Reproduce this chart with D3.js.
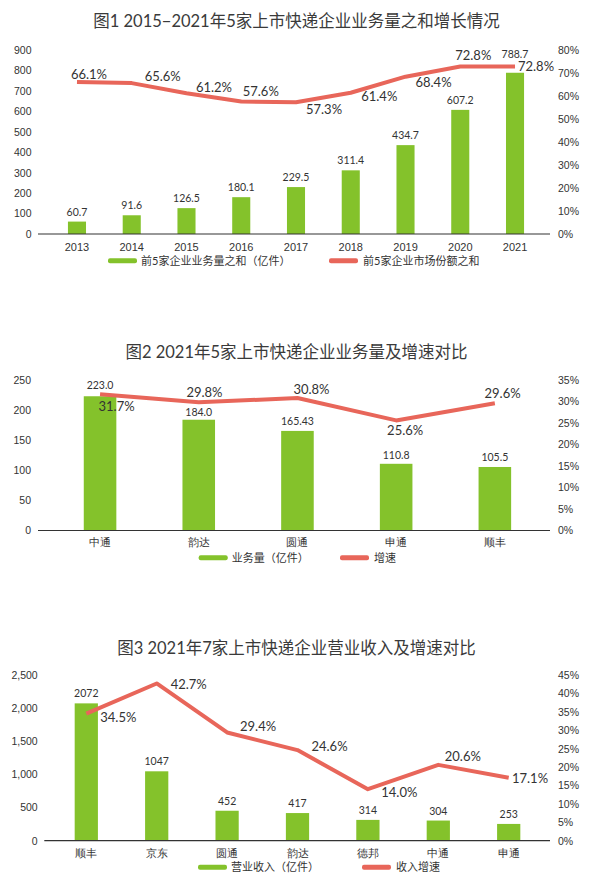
<!DOCTYPE html>
<html>
<head>
<meta charset="utf-8">
<script src="https://cdn.jsdelivr.net/npm/d3@7"></script>
<style>
  html, body { margin: 0; padding: 0; background: #fff; }
  svg { display: block; font-family: 'Lato', 'Noto Sans CJK SC', sans-serif; }
</style>
</head>
<body>
<svg id="chart" width="596" height="880"></svg>
<script>
// ---------- data ----------
const years = ['2013', '2014', '2015', '2016', '2017', '2018', '2019', '2020', '2021'];
const top5Volume = [60.7, 91.6, 126.5, 180.1, 229.5, 311.4, 434.7, 607.2, 788.7];
const top5VolumeLabels = ['60.7', '91.6', '126.5', '180.1', '229.5', '311.4', '434.7', '607.2', '788.7'];
const top5Share = [66.1, 65.6, 61.2, 57.6, 57.3, 61.4, 68.4, 72.8, 72.8];
const leftTicks1 = [0, 100, 200, 300, 400, 500, 600, 700, 800, 900];
const rightTicks1 = [0, 10, 20, 30, 40, 50, 60, 70, 80];

const companies2 = ['中通', '韵达', '圆通', '申通', '顺丰'];
const volume2021 = [223.0, 184.0, 165.43, 110.8, 105.5];
const volume2021Labels = ['223.0', '184.0', '165.43', '110.8', '105.5'];
const growth2021 = [31.7, 29.8, 30.8, 25.6, 29.6];
const leftTicks2 = [0, 50, 100, 150, 200, 250];
const rightTicks2 = [0, 5, 10, 15, 20, 25, 30, 35];

const companies3 = ['顺丰', '京东', '圆通', '韵达', '德邦', '中通', '申通'];
const revenue2021 = [2072, 1047, 452, 417, 314, 304, 253];
const revenueGrowth = [34.5, 42.7, 29.4, 24.6, 14.0, 20.6, 17.1];
const leftTicks3 = [0, 500, 1000, 1500, 2000, 2500];
const rightTicks3 = [0, 5, 10, 15, 20, 25, 30, 35, 40, 45];

// ---------- layout (label placement relative to marks) ----------
const lineLabelOffsets1 = [[12, -8], [31, -6.5], [27.5, -6], [19.5, -10], [28, 7], [28.5, 4], [28, 5.5], [13, -11], [21, 0]];
const barLabelLift1 = [6, 6, 6, 6, 6, 6, 6, 6, 15];
const lineLabelOffsets2 = [[16.5, 12], [5.7, -10.4], [14, -9], [9, 10.4], [7.7, -10]];
const barLabelLift2 = [7, 4, 6, 5, 5.5, 5.5];
const lineLabelOffsets3 = [[32, 3.6], [32, 1], [31, -6], [32, -3.4], [31.4, 3.6], [24.5, -8], [21.3, 0.6]];
const barLabelLift3 = [6, 6.5, 6, 6, 6, 6, 6];

const GREEN = '#84c22b';
const RED = '#e8665a';
const TEXT = '#333333';

const svg = d3.select('#chart');
svg.append('rect').attr('width', 596).attr('height', 880).attr('fill', '#fff');

function drawChart(cfg) {
  const g = svg.append('g');
  const x = d3.scaleBand().domain(cfg.cats).range([cfg.x0, cfg.x1]).paddingInner(0.67).paddingOuter(0.335);
  const yL = d3.scaleLinear().domain([0, cfg.leftMax]).range([cfg.yBottom, cfg.yTop]);
  const yR = d3.scaleLinear().domain([0, cfg.rightMax]).range([cfg.yBottom, cfg.yTop]);
  const cx = c => x(c) + x.bandwidth() / 2;

  // title
  g.append('text').attr('x', 296.5).attr('y', cfg.titleY).attr('dy', '0.35em')
    .attr('text-anchor', 'middle').attr('font-size', 16.5).attr('fill', '#3a3a3a')
    .text(cfg.title);

  // left axis
  const ga = g.append('g').attr('transform', `translate(${cfg.leftLabelX},0)`)
    .call(d3.axisLeft(yL).tickValues(cfg.leftTicks).tickSize(0).tickPadding(0).tickFormat(cfg.leftFormat));
  ga.select('.domain').remove();
  ga.selectAll('text').attr('font-size', 10.5).attr('fill', TEXT).attr('font-family', null);

  // right axis
  const gr = g.append('g').attr('transform', `translate(558,0)`)
    .call(d3.axisRight(yR).tickValues(cfg.rightTicks).tickSize(0).tickPadding(0).tickFormat(d => d + '%'));
  gr.select('.domain').remove();
  gr.selectAll('text').attr('font-size', 10.5).attr('fill', TEXT).attr('font-family', null);

  // bars
  g.selectAll('rect.bar').data(cfg.bars).enter().append('rect')
    .attr('class', 'bar')
    .attr('x', (d, i) => x(cfg.cats[i]))
    .attr('width', x.bandwidth())
    .attr('y', d => yL(d))
    .attr('height', d => yL(0) - yL(d))
    .attr('fill', GREEN);

  // baseline + bottom axis labels
  const gb = g.append('g').attr('transform', `translate(0,${cfg.yBottom})`)
    .call(d3.axisBottom(x).tickSize(0).tickPadding(0));
  gb.select('.domain').remove();
  gb.selectAll('text').attr('font-size', 11).attr('fill', TEXT).attr('font-family', null)
    .attr('y', cfg.catLabelOffset).attr('dy', '0.35em');
  g.append('line').attr('x1', cfg.axisX0).attr('x2', 550)
    .attr('y1', yL(0)).attr('y2', yL(0)).attr('stroke', '#333').attr('stroke-width', 1.2);

  // bar labels
  g.selectAll('text.barlab').data(cfg.bars).enter().append('text')
    .attr('class', 'barlab')
    .attr('x', (d, i) => cx(cfg.cats[i]))
    .attr('y', (d, i) => yL(d) - cfg.barLift[i])
    .attr('text-anchor', 'middle').attr('font-size', 10.5).attr('fill', TEXT)
    .text((d, i) => cfg.barLabels[i]);

  // line
  const line = d3.line().x((d, i) => cx(cfg.cats[i])).y(d => yR(d));
  g.append('path').datum(cfg.line).attr('d', line)
    .attr('fill', 'none').attr('stroke', RED).attr('stroke-width', 4)
    .attr('stroke-linejoin', 'round');

  // line labels
  g.selectAll('text.linelab').data(cfg.line).enter().append('text')
    .attr('class', 'linelab')
    .attr('x', (d, i) => cx(cfg.cats[i]) + cfg.lineOffsets[i][0])
    .attr('y', (d, i) => yR(d) + cfg.lineOffsets[i][1])
    .attr('dy', '0.35em')
    .attr('text-anchor', 'middle').attr('font-size', 13).attr('fill', TEXT)
    .text(d => d.toFixed(1) + '%');

  // legend
  const lg = g.append('g');
  lg.append('rect').attr('x', cfg.legend[0]).attr('y', cfg.legendY - 2.5).attr('width', 29).attr('height', 5)
    .attr('rx', 2).attr('fill', GREEN);
  lg.append('text').attr('x', cfg.legend[0] + 33).attr('y', cfg.legendY).attr('dy', '0.35em')
    .attr('font-size', 11).attr('fill', TEXT).text(cfg.legendNames[0]);
  lg.append('rect').attr('x', cfg.legend[1]).attr('y', cfg.legendY - 2.5).attr('width', 29).attr('height', 5)
    .attr('rx', 2).attr('fill', RED);
  lg.append('text').attr('x', cfg.legend[1] + 34).attr('y', cfg.legendY).attr('dy', '0.35em')
    .attr('font-size', 11).attr('fill', TEXT).text(cfg.legendNames[1]);
}

drawChart({
  title: '图1 2015−2021年5家上市快递企业业务量之和增长情况', titleY: 21.7,
  cats: years, bars: top5Volume, barLabels: top5VolumeLabels, line: top5Share,
  leftMax: 900, rightMax: 80, leftTicks: leftTicks1, rightTicks: rightTicks1,
  leftFormat: d => d, leftLabelX: 31.5,
  x0: 49.6, x1: 542.4, yTop: 50, yBottom: 234, axisX0: 38, catLabelOffset: 13,
  barLift: barLabelLift1, lineOffsets: lineLabelOffsets1,
  legend: [108, 329], legendY: 260.7,
  legendNames: ['前5家企业业务量之和（亿件）', '前5家企业市场份额之和']
});

drawChart({
  title: '图2 2021年5家上市快递企业业务量及增速对比', titleY: 352.7,
  cats: companies2, bars: volume2021, barLabels: volume2021Labels, line: growth2021,
  leftMax: 250, rightMax: 35, leftTicks: leftTicks2, rightTicks: rightTicks2,
  leftFormat: d => d, leftLabelX: 31,
  x0: 50.7, x1: 544.2, yTop: 380, yBottom: 530.5, axisX0: 38, catLabelOffset: 12,
  barLift: barLabelLift2, lineOffsets: lineLabelOffsets2,
  legend: [198.7, 340], legendY: 557.7,
  legendNames: ['业务量（亿件）', '增速']
});

drawChart({
  title: '图3 2021年7家上市快递企业营业收入及增速对比', titleY: 648.3,
  cats: companies3, bars: revenue2021, barLabels: revenue2021.map(String), line: revenueGrowth,
  leftMax: 2500, rightMax: 45, leftTicks: leftTicks3, rightTicks: rightTicks3,
  leftFormat: d3.format(','), leftLabelX: 37.7,
  x0: 51.1, x1: 543.9, yTop: 675, yBottom: 840.7, axisX0: 44.3, catLabelOffset: 12,
  barLift: barLabelLift3, lineOffsets: lineLabelOffsets3,
  legend: [198, 362], legendY: 867.3,
  legendNames: ['营业收入（亿件）', '收入增速']
});
</script>
</body>
</html>
